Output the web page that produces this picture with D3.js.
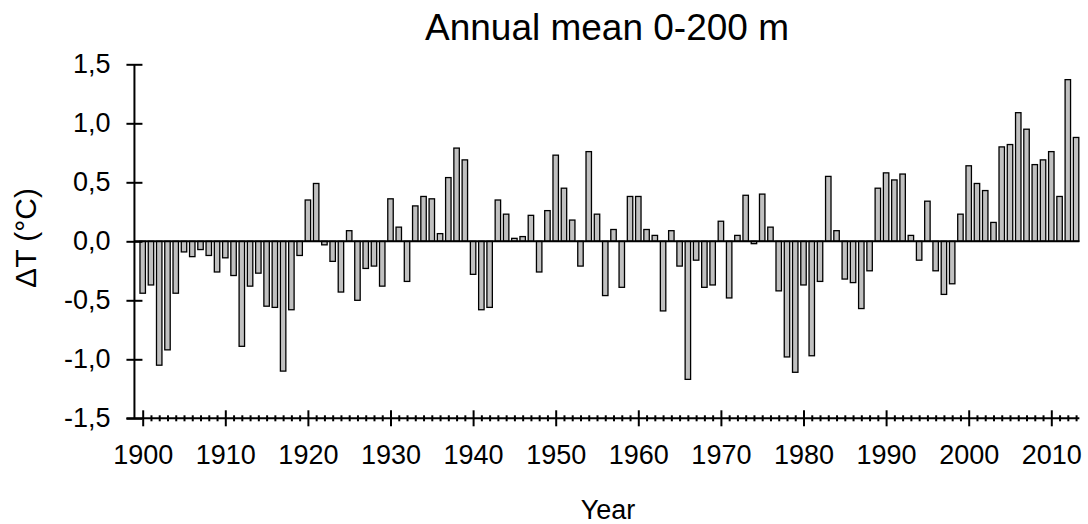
<!DOCTYPE html>
<html>
<head>
<meta charset="utf-8">
<script src="https://cdn.jsdelivr.net/npm/d3@7/dist/d3.min.js"></script>
<style>
  html, body { margin: 0; padding: 0; background: #fff; }
  svg { display: block; font-family: Arial, "Liberation Sans", sans-serif; }
</style>
</head>
<body>
<svg id="chart" width="1088" height="524"></svg>
<script>
// Annual mean temperature anomaly, 0-200 m layer (°C), one value per year
const firstYear = 1900;
const anomalies = [
  -0.44, -0.37, -1.05, -0.92, -0.44, -0.09, -0.13, -0.07, -0.12, -0.26, // 1900s
  -0.14, -0.29, -0.89, -0.38, -0.27, -0.55, -0.56, -1.10, -0.58, -0.12, // 1910s
   0.35,  0.49, -0.03, -0.17, -0.43,  0.09, -0.50, -0.23, -0.21, -0.38, // 1920s
   0.36,  0.12, -0.34,  0.30,  0.38,  0.36,  0.065, 0.54,  0.79,  0.69, // 1930s
  -0.28, -0.58, -0.56,  0.35,  0.23,  0.025, 0.04,  0.22, -0.26,  0.26, // 1940s
   0.73,  0.45,  0.18, -0.21,  0.76,  0.23, -0.46,  0.10, -0.39,  0.38, // 1950s
   0.38,  0.10,  0.05, -0.59,  0.09, -0.21, -1.17, -0.16, -0.39, -0.37, // 1960s
   0.17, -0.48,  0.05,  0.39, -0.02,  0.40,  0.12, -0.42, -0.98, -1.11, // 1970s
  -0.37, -0.97, -0.34,  0.55,  0.09, -0.32, -0.35, -0.57, -0.25,  0.45, // 1980s
   0.58,  0.52,  0.57,  0.05, -0.16,  0.34, -0.25, -0.45, -0.36,  0.23, // 1990s
   0.64,  0.49,  0.43,  0.16,  0.80,  0.82,  1.09,  0.95,  0.65,  0.69, // 2000s
   0.76,  0.38,  1.37,  0.88                                            // 2010s
];
const years = anomalies.map((_, i) => firstYear + i);

const yTickValues = [-1.5, -1.0, -0.5, 0.0, 0.5, 1.0, 1.5];
const yTickLabels = ["-1,5", "-1,0", "-0,5", "0,0", "0,5", "1,0", "1,5"];
const xMajorTicks = [1900, 1910, 1920, 1930, 1940, 1950, 1960, 1970, 1980, 1990, 2000, 2010];

const titleText = "Annual mean 0-200 m";
const xTitle = "Year";
const yTitle = "ΔT (°C)";

// ---- layout ----
const svg = d3.select("#chart");
const x = d3.scaleLinear().domain([1900, 2010]).range([142.7, 1051.3]);
const y = d3.scaleLinear().domain([-1.5, 1.5]).range([418.3, 64.3]);
const axisLeftX = x(firstYear - 1);
const axisRightX = x(years[years.length - 1] + 0.4);
const step = x(1) - x(0);
const barW = step * 0.66;
const labelFont = 27;

// bars
svg.append("g")
  .selectAll("rect")
  .data(years)
  .join("rect")
  .attr("x", (d) => x(d) - barW / 2)
  .attr("width", barW)
  .attr("y", (d, i) => y(Math.max(0, anomalies[i])))
  .attr("height", (d, i) => Math.abs(y(anomalies[i]) - y(0)))
  .attr("fill", "#c0c0c0")
  .attr("stroke", "#000")
  .attr("stroke-width", 1.3);

// zero line
svg.append("line")
  .attr("x1", axisLeftX).attr("x2", axisRightX)
  .attr("y1", y(0)).attr("y2", y(0))
  .attr("stroke", "#000").attr("stroke-width", 2);

// y axis with ticks crossing the line
const yAxis = svg.append("g")
  .attr("transform", `translate(${axisLeftX},0)`)
  .call(d3.axisLeft(y)
    .tickValues(yTickValues)
    .tickFormat((d, i) => yTickLabels[i])
    .tickSize(8)
    .tickPadding(16));
yAxis.select(".domain").remove();
yAxis.append("line")
  .attr("x1", 0).attr("x2", 0)
  .attr("y1", y(1.5)).attr("y2", y(-1.5))
  .attr("stroke", "#000").attr("stroke-width", 2);
yAxis.selectAll(".tick line").attr("x1", 8).attr("x2", -8)
  .attr("stroke", "#000").attr("stroke-width", 2);
yAxis.selectAll(".tick text")
  .attr("font-size", labelFont).attr("fill", "#000")
  .attr("font-family", "Arial, 'Liberation Sans', sans-serif");

// x axis: minor ticks every year, major ticks every decade with labels
const xBase = y(-1.5);
svg.append("line")
  .attr("x1", axisLeftX - 8).attr("x2", axisRightX)
  .attr("y1", xBase).attr("y2", xBase)
  .attr("stroke", "#000").attr("stroke-width", 2);

const xMinor = svg.append("g")
  .attr("transform", `translate(0,${xBase})`)
  .call(d3.axisBottom(x)
    .tickValues(years.filter((yr) => !xMajorTicks.includes(yr)))
    .tickFormat("")
    .tickSize(3));
xMinor.select(".domain").remove();
xMinor.selectAll(".tick line").attr("y1", -3).attr("y2", 3)
  .attr("stroke", "#000").attr("stroke-width", 2);

const xMajor = svg.append("g")
  .attr("transform", `translate(0,${xBase})`)
  .call(d3.axisBottom(x)
    .tickValues(xMajorTicks)
    .tickFormat(d3.format("d"))
    .tickSize(8)
    .tickPadding(19));
xMajor.select(".domain").remove();
xMajor.selectAll(".tick line").attr("y1", -8).attr("y2", 8)
  .attr("stroke", "#000").attr("stroke-width", 2);
xMajor.selectAll(".tick text")
  .attr("font-size", labelFont).attr("fill", "#000")
  .attr("font-family", "Arial, 'Liberation Sans', sans-serif");

// titles
svg.append("text")
  .attr("x", 607).attr("y", 39.5)
  .attr("text-anchor", "middle")
  .attr("font-size", 37)
  .text(titleText);

svg.append("text")
  .attr("x", 608).attr("y", 519)
  .attr("text-anchor", "middle")
  .attr("font-size", 27)
  .text(xTitle);

svg.append("text")
  .attr("transform", `translate(36,238) rotate(-90)`)
  .attr("text-anchor", "middle")
  .attr("font-size", 30)
  .text(yTitle);
</script>
</body>
</html>
